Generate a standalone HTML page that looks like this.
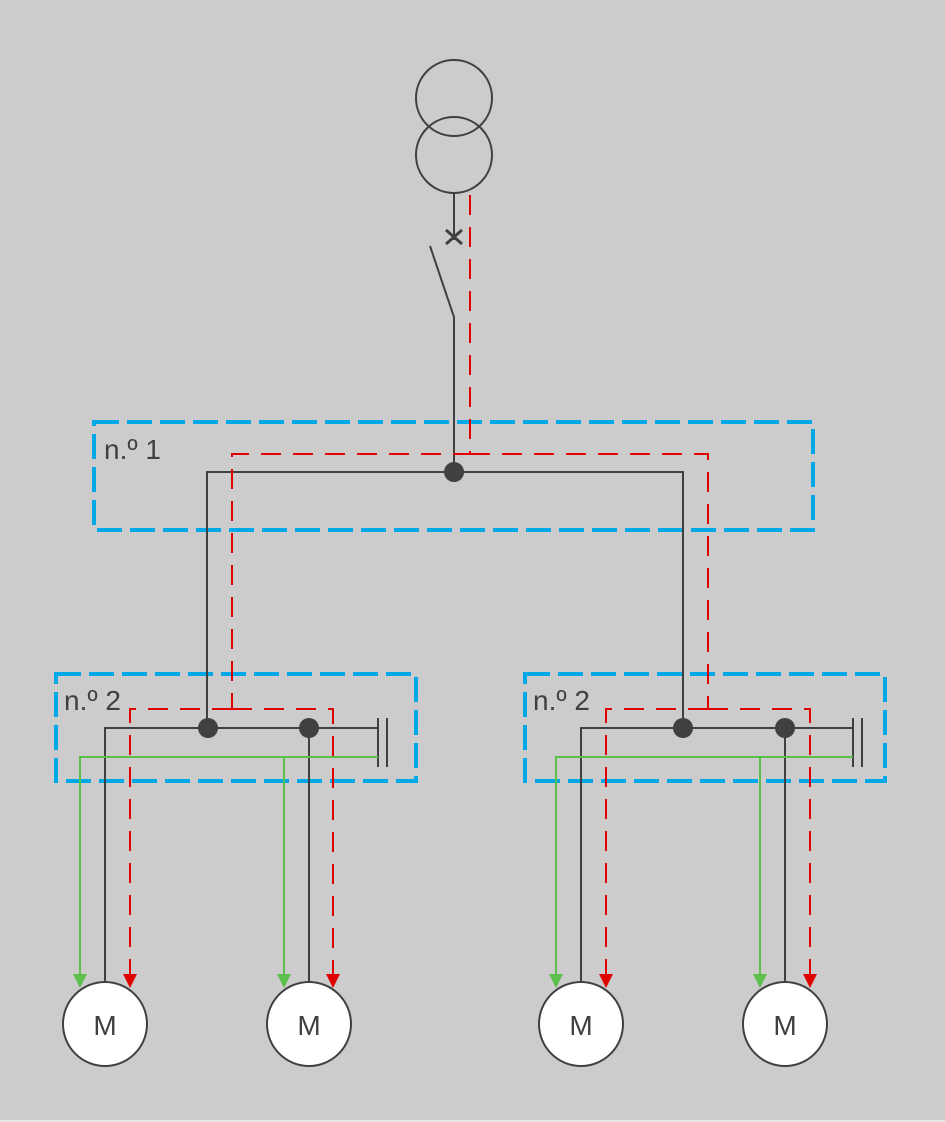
<!DOCTYPE html>
<html><head><meta charset="utf-8"><style>
html,body{margin:0;padding:0;background:#cccccc;}
svg{display:block;}
text{font-family:"Liberation Sans",sans-serif;fill:#404040;}
</style></head><body>
<svg width="945" height="1122" viewBox="0 0 945 1122" xmlns="http://www.w3.org/2000/svg">
<rect width="945" height="1120" fill="#cccccc"/>
<rect y="1120" width="945" height="2" fill="#e6e6e6"/>
<!-- transformer -->
<g fill="none" stroke="#404040" stroke-width="2">
<circle cx="454" cy="98" r="38"/>
<circle cx="454" cy="155" r="38"/>
<line x1="454" y1="193" x2="454" y2="240"/>
<path d="M446,230 L462,244 M462,230 L446,244" stroke-width="3"/>
<path d="M430,246 L454,317 L454,472"/>
</g>
<!-- blue boxes -->
<g fill="none" stroke="#00a8e8" stroke-width="4" stroke-dasharray="25,8">
<rect x="94" y="422" width="719" height="108"/>
<rect x="56" y="674" width="360" height="107"/>
<rect x="525" y="674" width="360" height="107"/>
</g>
<g font-size="28">
<text x="104" y="459">n.º 1</text>
<text x="64" y="710">n.º 2</text>
<text x="533" y="710">n.º 2</text>
</g>
<!-- black wiring -->
<g fill="none" stroke="#404040" stroke-width="2">
<path d="M207,728 L207,472 L683,472 L683,728"/>
<path d="M105,982 L105,728 L378,728"/>
<line x1="309" y1="728" x2="309" y2="982"/>
<line x1="378" y1="718" x2="378" y2="767"/>
<line x1="387" y1="718" x2="387" y2="767"/>
<path d="M581,982 L581,728 L853,728"/>
<line x1="785" y1="728" x2="785" y2="982"/>
<line x1="853" y1="718" x2="853" y2="767"/>
<line x1="862" y1="718" x2="862" y2="767"/>
</g>
<g fill="#404040">
<circle cx="454" cy="472" r="10"/>
<circle cx="208" cy="728" r="10"/>
<circle cx="309" cy="728" r="10"/>
<circle cx="683" cy="728" r="10"/>
<circle cx="785" cy="728" r="10"/>
</g>
<!-- green -->
<g fill="none" stroke="#5cbf4a" stroke-width="2">
<path d="M378,757 L80,757 L80,976"/>
<path d="M284,757 L284,976"/>
<path d="M853,757 L556,757 L556,976"/>
<path d="M760,757 L760,976"/>
</g>
<g fill="#5cbf4a">
<path d="M73,974 L87,974 L80,988 Z"/>
<path d="M277,974 L291,974 L284,988 Z"/>
<path d="M549,974 L563,974 L556,988 Z"/>
<path d="M753,974 L767,974 L760,988 Z"/>
</g>
<!-- red -->
<g fill="none" stroke="#e00000" stroke-width="2" stroke-dasharray="20,12">
<path d="M470,195 L470,454 L232,454 L232,709"/>
<path d="M470,454 L708,454 L708,709"/>
<path d="M232,709 L130,709 L130,976"/>
<path d="M232,709 L333,709 L333,976"/>
<path d="M708,709 L606,709 L606,976"/>
<path d="M708,709 L810,709 L810,976"/>
</g>
<g fill="#e00000">
<path d="M123,974 L137,974 L130,988 Z"/>
<path d="M326,974 L340,974 L333,988 Z"/>
<path d="M599,974 L613,974 L606,988 Z"/>
<path d="M803,974 L817,974 L810,988 Z"/>
</g>
<!-- motors -->
<g fill="#ffffff" stroke="#404040" stroke-width="2">
<circle cx="105" cy="1024" r="42"/>
<circle cx="309" cy="1024" r="42"/>
<circle cx="581" cy="1024" r="42"/>
<circle cx="785" cy="1024" r="42"/>
</g>
<g font-size="28" text-anchor="middle">
<text x="105" y="1035">M</text>
<text x="309" y="1035">M</text>
<text x="581" y="1035">M</text>
<text x="785" y="1035">M</text>
</g>
</svg>
</body></html>
